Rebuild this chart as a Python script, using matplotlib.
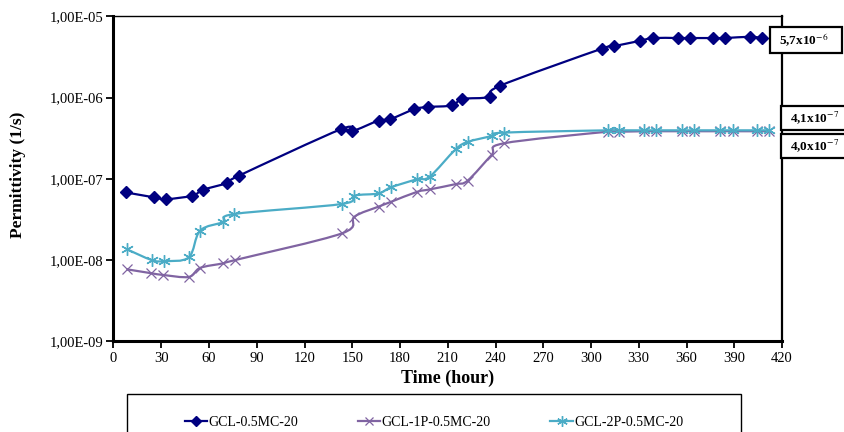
import numpy as np
import matplotlib
matplotlib.use("Agg")
import matplotlib.pyplot as plt
from matplotlib.path import Path
from matplotlib.patches import PathPatch, Rectangle
from matplotlib.lines import Line2D
from matplotlib.ticker import FixedLocator, NullLocator

plt.rcParams['font.family'] = ['Liberation Serif', 'DejaVu Serif']
plt.rcParams['mathtext.fontset'] = 'stix'

# ---------------- data ----------------
t_mc = [7.7, 25.7, 32.8, 49.6, 56.1, 71.4, 78.7, 142.8, 149.8, 166.5, 173.6,
        189.1, 197.5, 212.8, 219.1, 236.3, 242.6, 306.9, 314.7, 331.0, 338.8,
        354.7, 362.1, 376.9, 384.5, 399.8, 407.7]
p_mc = [6.8e-8, 5.9e-8, 5.6e-8, 6.2e-8, 7.3e-8, 8.9e-8, 1.09e-7, 4.07e-7, 3.85e-7,
        5.2e-7, 5.4e-7, 7.2e-7, 7.65e-7, 8.0e-7, 9.6e-7, 1.02e-6, 1.39e-6, 4.0e-6,
        4.3e-6, 5.0e-6, 5.4e-6, 5.4e-6, 5.4e-6, 5.4e-6, 5.4e-6, 5.6e-6, 5.4e-6]

t_1p = [8.3, 23.4, 31.3, 47.3, 54.4, 68.7, 76.4, 143.5, 151.4, 166.5, 174.3,
        190.6, 198.6, 214.9, 222.5, 237.5, 245.1, 310.5, 317.4, 333.5, 340.9,
        357.2, 364.6, 381.3, 389.1, 404.4, 411.7]
p_1p = [7.7e-9, 6.9e-9, 6.55e-9, 6.2e-9, 8.0e-9, 9.1e-9, 1.0e-8, 2.13e-8, 3.42e-8,
        4.54e-8, 5.2e-8, 6.9e-8, 7.4e-8, 8.6e-8, 9.5e-8, 1.96e-7, 2.73e-7, 3.8e-7,
        3.8e-7, 3.85e-7, 3.85e-7, 3.85e-7, 3.85e-7, 3.85e-7, 3.85e-7, 3.85e-7, 3.85e-7]

t_2p = [8.3, 24.0, 32.0, 47.3, 54.4, 69.0, 76.0, 143.5, 151.4, 166.5, 174.3,
        190.6, 198.6, 214.9, 222.5, 237.5, 245.1, 310.5, 317.4, 333.5, 340.9,
        357.2, 364.6, 381.3, 389.1, 404.4, 411.7]
p_2p = [1.36e-8, 1.0e-8, 9.7e-9, 1.08e-8, 2.3e-8, 2.94e-8, 3.69e-8, 4.9e-8, 6.2e-8,
        6.6e-8, 7.85e-8, 9.86e-8, 1.06e-7, 2.3e-7, 2.84e-7, 3.36e-7, 3.7e-7, 3.95e-7,
        3.95e-7, 3.95e-7, 3.95e-7, 3.95e-7, 3.95e-7, 3.95e-7, 3.95e-7, 3.95e-7, 3.95e-7]

labels = ['GCL-0.5MC-20', 'GCL-1P-0.5MC-20', 'GCL-2P-0.5MC-20']
colors = ['#000080', '#8064A2', '#4BACC6']
markers = ['D', 'x', (6, 2, 0)]

xticks = list(range(0, 421, 30))
yticks = [1e-9, 1e-8, 1e-7, 1e-6, 1e-5]
ytick_labels = ['1,00E-09', '1,00E-08', '1,00E-07', '1,00E-06', '1,00E-05']
annotations = ['5,7x10$^{-6}$', '4,1x10$^{-7}$', '4,0x10$^{-7}$']

# ---------------- figure ----------------
W, H = 845, 432
fig = plt.figure(figsize=(W / 100, H / 100), dpi=100)

def fx(px):
    return px / W

def fy(py):
    return 1 - py / H

ax = fig.add_axes([fx(113.5), fy(341.3), fx(782) - fx(113.5), fy(16.3) - fy(341.3)])
ax.set_yscale('log')
ax.set_xlim(0, 420)
ax.set_ylim(1e-9, 1e-5)


def smooth_path(xs, ys):
    """Excel-like smoothed line: cubic Bezier (Catmull-Rom) in (x, log y) space."""
    P = np.column_stack([np.asarray(xs, float), np.log10(np.asarray(ys, float))])
    n = len(P)
    verts = [P[0]]
    codes = [Path.MOVETO]
    for i in range(n - 1):
        p0 = P[i - 1] if i > 0 else P[i]
        p1 = P[i]
        p2 = P[i + 1]
        p3 = P[i + 2] if i + 2 < n else P[i + 1]
        c1 = p1 + (p2 - p0) / 6.0
        c2 = p2 - (p3 - p1) / 6.0
        verts += [c1, c2, p2]
        codes += [Path.CURVE4] * 3
    V = np.array(verts)
    V[:, 1] = 10 ** V[:, 1]
    return Path(V, codes)


series = [(t_mc, p_mc), (t_1p, p_1p), (t_2p, p_2p)]
msizes = [6.5, 7.5, 9]
mews = [1, 0.9, 1.0]
for (t, p), c, m, ms, mew in zip(series, colors, markers, msizes, mews):
    ax.add_patch(PathPatch(smooth_path(t, p), fill=False, edgecolor=c, lw=1.6,
                           transform=ax.transData, zorder=2))
    ax.plot(t, p, linestyle='none', marker=m, color=c, markersize=ms,
            markeredgewidth=mew, zorder=3)

ax.xaxis.set_major_locator(FixedLocator(xticks))
ax.set_xticklabels([str(v) for v in xticks])
ax.yaxis.set_major_locator(FixedLocator(yticks))
ax.yaxis.set_minor_locator(NullLocator())
ax.set_yticklabels(ytick_labels)
ax.tick_params(axis='both', direction='out', length=5, width=1.3, labelsize=10.5,
               colors='black', pad=3)
ax.tick_params(axis='y', pad=2)

for s, w in zip(['left', 'bottom', 'right', 'top'], [2.2, 2.2, 1.6, 1.0]):
    ax.spines[s].set_linewidth(w)
    ax.spines[s].set_color('black')

ax.set_xlabel('Time (hour)', fontsize=13, fontweight='bold', labelpad=3)
fig.text(fx(18), fy(175), 'Permittivity (1/s)', rotation=90, fontsize=12.5,
         fontweight='bold', ha='center', va='center')

# annotation boxes (value labels)
boxes = [(770, 27.3, 72, 26), (781, 106, 70, 24), (781, 134, 70, 24)]
for (bx, by, bw, bh), txt in zip(boxes, annotations):
    fig.add_artist(Rectangle((fx(bx), fy(by + bh)), bw / W, bh / H,
                             transform=fig.transFigure, facecolor='white',
                             edgecolor='black', lw=1.6, clip_on=False))
    fig.text(fx(bx + 9), fy(by + bh / 2), txt, fontsize=9.5, fontweight='bold',
             ha='left', va='center')

# legend box
fig.add_artist(Rectangle((fx(127), fy(440)), (741 - 127) / W, (440 - 393.7) / H,
                         transform=fig.transFigure, facecolor='white',
                         edgecolor='black', lw=1.0, clip_on=False))
handles = [Line2D([], [], color=c, marker=m, markersize=ms, lw=1.6, markeredgewidth=mew)
           for c, m, ms, mew in zip(colors, markers, msizes, mews)]
fig.legend(handles, labels, loc='center', bbox_to_anchor=(fx(434), fy(422.5)),
           ncol=3, frameon=False, fontsize=10, handlelength=1.6, handletextpad=0.1,
           columnspacing=4.3, markerscale=0.85)

fig.savefig('out.png', dpi=100)
